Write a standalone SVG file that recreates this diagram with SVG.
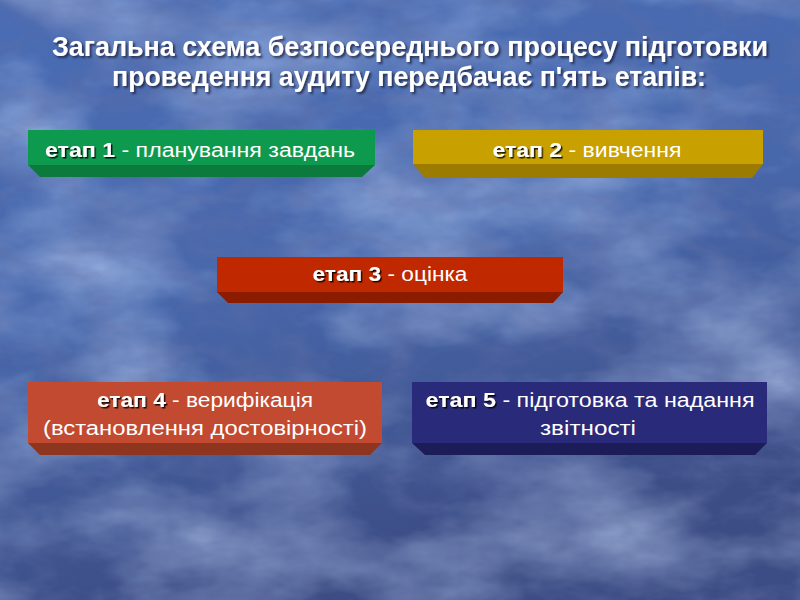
<svg xmlns="http://www.w3.org/2000/svg" width="800" height="600" viewBox="0 0 800 600">
<defs>
<linearGradient id="bg" x1="0" y1="0" x2="0.3" y2="1">
<stop offset="0" stop-color="#4a6cb4"/>
<stop offset="0.5" stop-color="#4868ac"/>
<stop offset="1" stop-color="#3c4c84"/>
</linearGradient>
<filter id="marble" x="0" y="0" width="100%" height="100%">
<feTurbulence type="fractalNoise" baseFrequency="0.006 0.012" numOctaves="5" seed="7" result="n"/>
<feColorMatrix in="n" type="matrix" values="0 0 0 0 0.55  0 0 0 0 0.68  0 0 0 0 0.95  0 0 0 1.6 -0.6" result="c"/>
<feComposite in="c" in2="SourceGraphic" operator="in"/>
</filter>
<filter id="marble2" x="0" y="0" width="100%" height="100%">
<feTurbulence type="turbulence" baseFrequency="0.01 0.02" numOctaves="4" seed="3" result="n"/>
<feColorMatrix in="n" type="matrix" values="0 0 0 0 0.12  0 0 0 0 0.16  0 0 0 0 0.38  0 0 0 -2.2 0.9" result="c"/>
<feComposite in="c" in2="SourceGraphic" operator="in"/>
</filter>
<filter id="sh" x="-5%" y="-20%" width="110%" height="150%">
<feDropShadow dx="1.5" dy="1.5" stdDeviation="0.4" flood-color="#000" flood-opacity="0.85"/>
</filter>
<filter id="shT" x="-5%" y="-20%" width="110%" height="150%">
<feDropShadow dx="2" dy="2" stdDeviation="0.8" flood-color="#1a2240" flood-opacity="0.8"/>
</filter>
</defs>
<style>
.title{font-family:"Liberation Sans Narrow","Liberation Sans","DejaVu Sans Condensed",sans-serif;font-weight:bold;font-size:27px;fill:#ffffff;filter:url(#shT)}
.lbl{font-family:"Liberation Sans",Arial,sans-serif;font-size:20px;fill:#ffffff}
.b{font-weight:bold;filter:url(#sh)}
</style>
<rect width="800" height="600" fill="url(#bg)"/>
<rect width="800" height="600" fill="#fff" filter="url(#marble)" opacity="0.7"/>
<rect width="800" height="600" fill="#fff" filter="url(#marble2)" opacity="0.45"/>

<g id="title">
<text class="title" x="410" y="56" text-anchor="middle" textLength="716" lengthAdjust="spacingAndGlyphs">Загальна схема безпосереднього процесу підготовки</text>
<text class="title" x="409" y="86" text-anchor="middle" textLength="594" lengthAdjust="spacingAndGlyphs">проведення аудиту передбачає п'ять етапів:</text>
</g>

<g id="stage1">
<polygon points="28,165 375,165 362,177 40,177" fill="#0b7a3c"/>
<rect x="28" y="130" width="347" height="35" fill="#0e9a4e"/>
<text class="lbl" x="200" y="157" text-anchor="middle" textLength="310" lengthAdjust="spacingAndGlyphs"><tspan class="b">етап 1</tspan> - планування завдань</text>
</g>

<g id="stage2">
<polygon points="413,164 763,164 752,178 425,178" fill="#9c7c00"/>
<rect x="413" y="130" width="350" height="34" fill="#c8a000"/>
<text class="lbl" x="587" y="157" text-anchor="middle" textLength="189" lengthAdjust="spacingAndGlyphs"><tspan class="b">етап 2</tspan> - вивчення</text>
</g>

<g id="stage3">
<polygon points="217,292 563,292 553,303 228,303" fill="#8c1c00"/>
<rect x="217" y="257" width="346" height="35" fill="#c02800"/>
<text class="lbl" x="390" y="281" text-anchor="middle" textLength="155" lengthAdjust="spacingAndGlyphs"><tspan class="b">етап 3</tspan> - оцінка</text>
</g>

<g id="stage4">
<polygon points="28,443 382,443 370,455 40,455" fill="#8e3520"/>
<rect x="28" y="382" width="354" height="61" fill="#c24a30"/>
<text class="lbl" x="205" y="407" text-anchor="middle" textLength="216" lengthAdjust="spacingAndGlyphs"><tspan class="b">етап 4</tspan> - верифікація</text>
<text class="lbl" x="205" y="435" text-anchor="middle" textLength="324" lengthAdjust="spacingAndGlyphs">(встановлення достовірності)</text>
</g>

<g id="stage5">
<polygon points="412,443 767,443 755,455 425,455" fill="#1c1c58"/>
<rect x="412" y="382" width="355" height="61" fill="#2a2a7a"/>
<text class="lbl" x="590" y="407" text-anchor="middle" textLength="329" lengthAdjust="spacingAndGlyphs"><tspan class="b">етап 5</tspan> - підготовка та надання</text>
<text class="lbl" x="588" y="435" text-anchor="middle" textLength="96" lengthAdjust="spacingAndGlyphs">звітності</text>
</g>

<g id="connectors"/>
</svg>
